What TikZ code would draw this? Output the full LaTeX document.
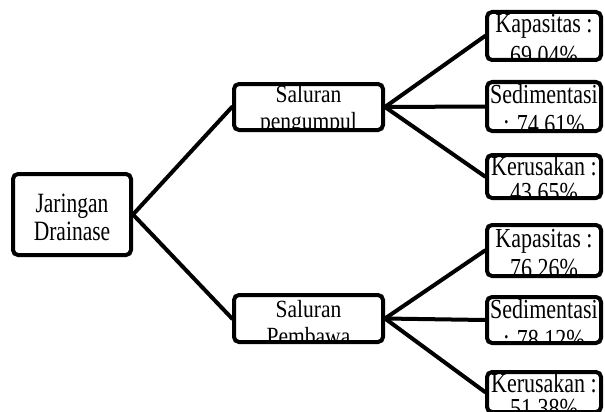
\documentclass[tikz,border=0pt]{standalone}
\usepackage{fontspec}
\setmainfont{Liberation Serif}
% #1 font size, #2 vertical stretch, #3 first baseline below top, #4 line spacing, #5 line 1, #6 line 2
\newcommand\twoln[6]{%
  \node[anchor=base, inner sep=0pt, font=\fontsize{#1}{#1}\selectfont]
    at ([yshift={-(#3)*1pt}]path picture bounding box.north) {\scalebox{1}[#2]{#5}};
  \node[anchor=base, inner sep=0pt, font=\fontsize{#1}{#1}\selectfont]
    at ([yshift={-(#3+#4)*1pt}]path picture bounding box.north) {\scalebox{1}[#2]{#6}};}
\begin{document}
\begin{tikzpicture}[x=1pt,y=-1pt,
  bx/.style={draw, line width=4pt, rounded corners=5pt, fill=white, inner sep=0pt},
  rbox/.style={bx, minimum width=114pt},
  mbox/.style={bx, minimum width=149pt},
  edge/.style={line width=4pt, line cap=round}]
\useasboundingbox (0,0) rectangle (605,412);
\node[bx, minimum width=118pt, minimum height=81pt,
  path picture={\twoln{21.5}{1.3}{38}{28}{Jaringan}{Drainase}}] (J) at (72,214.5) {};
\node[mbox, minimum height=46pt,
  path picture={\twoln{21.5}{1.15}{18}{27}{Saluran}{pengumpul}}] (P1) at (308.5,107) {};
\node[mbox, minimum height=47pt,
  path picture={\twoln{21.5}{1.15}{22}{27}{Saluran}{Pembawa}}] (P2) at (308.5,318.5) {};
\node[rbox, minimum height=48pt,
  path picture={\twoln{22}{1.25}{21}{31}{Kapasitas :}{69,04\%}}] (A1) at (544,36) {};
\node[rbox, minimum height=49pt,
  path picture={\twoln{22}{1.25}{21}{30}{Sedimentasi}{: 74,61\%}}] (A2) at (544,106.5) {};
\node[rbox, minimum height=43pt,
  path picture={\twoln{22}{1.25}{20}{26}{Kerusakan :}{43,65\%}}] (A3) at (544,176.5) {};
\node[rbox, minimum height=51pt,
  path picture={\twoln{22}{1.25}{22}{30}{Kapasitas :}{76,26\%}}] (B1) at (544,250.5) {};
\node[rbox, minimum height=46pt,
  path picture={\twoln{22}{1.25}{21}{30}{Sedimentasi}{: 78,12\%}}] (B2) at (544,320) {};
\node[rbox, minimum height=40pt,
  path picture={\twoln{22}{1.25}{20}{25}{Kerusakan :}{51,38\%}}] (B3) at (544,392) {};
\draw[edge] (J.east) -- (P1.west);
\draw[edge] (J.east) -- (P2.west);
\draw[edge] (P1.east) -- (A1.west);
\draw[edge] (P1.east) -- (A2.west);
\draw[edge] (P1.east) -- (A3.west);
\draw[edge] (P2.east) -- (B1.west);
\draw[edge] (P2.east) -- (B2.west);
\draw[edge] (P2.east) -- (B3.west);
\end{tikzpicture}
\end{document}
